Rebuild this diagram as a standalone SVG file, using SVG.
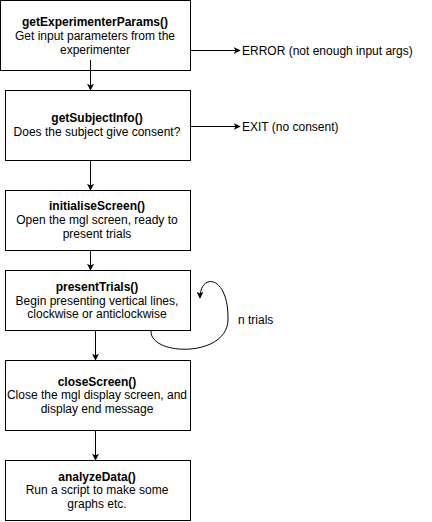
<svg xmlns="http://www.w3.org/2000/svg" width="432" height="522" viewBox="0 0 432 522">
<style>
.box{fill:#fff;stroke:#000;stroke-width:1}
.t{font-family:"Liberation Sans",Arial,sans-serif;font-size:12px;fill:#000;text-anchor:middle}
.b{font-weight:bold}
.l{font-family:"Liberation Sans",Arial,sans-serif;font-size:12px;fill:#000}
.c{fill:none;stroke:#000;stroke-width:1}
</style>
<defs>
<marker id="ah" viewBox="0 0 10 10" refX="9" refY="5" markerWidth="7" markerHeight="7" orient="auto" markerUnits="userSpaceOnUse">
<path d="M0,0 L10,5 L0,10 L2.5,5 Z" fill="#000"/>
</marker>
</defs>
<rect width="432" height="522" fill="#fff"/>
<g id="n1"><rect class="box" x="0.5" y="0.5" width="190" height="70"/>
<text class="t b" x="95" y="26">getExperimenterParams()</text>
<text class="t" x="95" y="40">Get input parameters from the</text>
<text class="t" x="95" y="54">experimenter</text></g>
<g id="n2"><rect class="box" x="5.5" y="90.5" width="185" height="70"/>
<text class="t b" x="97" y="122">getSubjectInfo()</text>
<text class="t" x="97" y="136">Does the subject give consent?</text></g>
<g id="n3"><rect class="box" x="5.5" y="190.5" width="185" height="60"/>
<text class="t b" x="97" y="210">initialiseScreen()</text>
<text class="t" x="97" y="224">Open the mgl screen, ready to</text>
<text class="t" x="97" y="238">present trials</text></g>
<g id="n4"><rect class="box" x="5.5" y="270.5" width="185" height="60"/>
<text class="t b" x="97" y="291">presentTrials()</text>
<text class="t" x="97" y="305">Begin presenting vertical lines,</text>
<text class="t" x="97" y="318">clockwise or anticlockwise</text></g>
<g id="n5"><rect class="box" x="5.5" y="360.5" width="185" height="70"/>
<text class="t b" x="97" y="386">closeScreen()</text>
<text class="t" x="97" y="399">Close the mgl display screen, and</text>
<text class="t" x="97" y="413">display end message</text></g>
<g id="n6"><rect class="box" x="5.5" y="460.5" width="185" height="60"/>
<text class="t b" x="97" y="481">analyzeData()</text>
<text class="t" x="97" y="494">Run a script to make some</text>
<text class="t" x="97" y="508">graphs etc.</text></g>
<g id="connectors">
<line class="c" x1="90.5" y1="60" x2="90.5" y2="90" marker-end="url(#ah)"/>
<line class="c" x1="190.5" y1="50.5" x2="240" y2="50.5" marker-end="url(#ah)"/>
<line class="c" x1="190.5" y1="126.5" x2="240" y2="126.5" marker-end="url(#ah)"/>
<line class="c" x1="90.5" y1="160.5" x2="90.5" y2="190" marker-end="url(#ah)"/>
<line class="c" x1="90.5" y1="250.5" x2="90.5" y2="270" marker-end="url(#ah)"/>
<line class="c" x1="95.5" y1="330.5" x2="95.5" y2="360" marker-end="url(#ah)"/>
<line class="c" x1="95.5" y1="430.5" x2="95.5" y2="460" marker-end="url(#ah)"/>
<path class="c" d="M151,331 C150,356 227,358 228,320 C229,275 200,272 200,298" marker-end="url(#ah)"/>
</g>
<text class="l" x="242" y="54.5">ERROR (not enough input args)</text>
<text class="l" x="242" y="130.5">EXIT (no consent)</text>
<text class="l" x="238" y="324">n trials</text>
</svg>
